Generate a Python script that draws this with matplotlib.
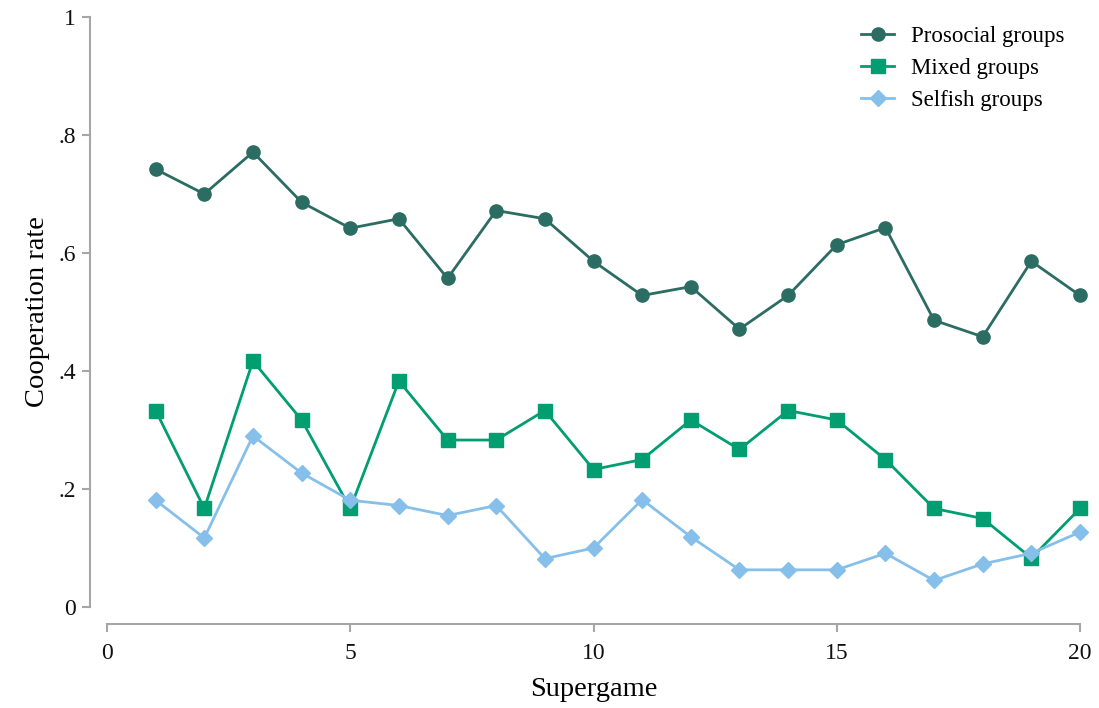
import matplotlib
matplotlib.use("Agg")
import matplotlib.pyplot as plt
from matplotlib.ticker import FixedLocator, FixedFormatter

supergame = list(range(1, 21))
prosocial = [0.742, 0.700, 0.771, 0.686, 0.642, 0.658, 0.557, 0.672, 0.658, 0.586,
             0.528, 0.543, 0.471, 0.528, 0.614, 0.643, 0.486, 0.458, 0.586, 0.528]
mixed = [0.333, 0.167, 0.417, 0.317, 0.167, 0.383, 0.283, 0.283, 0.333, 0.233,
         0.250, 0.317, 0.267, 0.333, 0.317, 0.250, 0.167, 0.150, 0.083, 0.167]
selfish = [0.181, 0.117, 0.290, 0.227, 0.181, 0.172, 0.155, 0.172, 0.082, 0.100,
           0.182, 0.119, 0.063, 0.063, 0.063, 0.091, 0.045, 0.073, 0.091, 0.127]

x_ticks = [0, 5, 10, 15, 20]
y_ticks = [0, 0.2, 0.4, 0.6, 0.8, 1.0]
y_tick_labels = ["0", ".2", ".4", ".6", ".8", "1"]

plt.rcParams["font.family"] = ["Liberation Serif", "DejaVu Serif"]

W, H = 1099, 708
fig = plt.figure(figsize=(W / 100, H / 100), dpi=100)
ax = fig.add_axes([107 / W, (H - 607) / H, (1080 - 107) / W, (607 - 17) / H])

axis_grey = "#a6a6a6"
ax.plot(supergame, prosocial, color="#2b6c63", lw=2, marker="o", ms=9.5,
        label="Prosocial groups", clip_on=False, zorder=3)
ax.plot(supergame, mixed, color="#009e70", lw=2, marker="s", ms=9.5,
        label="Mixed groups", clip_on=False, zorder=3)
ax.plot(supergame, selfish, color="#86c0ea", lw=2, marker="D", ms=8.5,
        label="Selfish groups", clip_on=False, zorder=3)

ax.set_xlim(0, 20)
ax.set_ylim(0, 1)
for side in ("top", "right"):
    ax.spines[side].set_visible(False)
# axes sit 17 px away from the plotting region
for side in ("left", "bottom"):
    ax.spines[side].set_position(("outward", 17 * 72 / 100))
    ax.spines[side].set_color(axis_grey)
    ax.spines[side].set_linewidth(1.5)

ax.xaxis.set_major_locator(FixedLocator(x_ticks))
ax.yaxis.set_major_locator(FixedLocator(y_ticks))
ax.yaxis.set_major_formatter(FixedFormatter(y_tick_labels))
ax.tick_params(axis="both", which="major", length=6, width=1.5, color=axis_grey,
               labelsize=17, labelcolor="#111111")
ax.tick_params(axis="x", pad=8)
ax.tick_params(axis="y", pad=4)

ax.set_xlabel("Supergame", fontsize=20.5, labelpad=9)
ax.set_ylabel("Cooperation rate", fontsize=20.5, labelpad=6)

leg = ax.legend(loc="upper right", bbox_to_anchor=(1074 / W, (H - 17) / H),
                bbox_transform=fig.transFigure, frameon=False, fontsize=16.5,
                handlelength=1.45, handletextpad=0.75, labelspacing=0.47,
                borderaxespad=0)

fig.savefig("out.png", dpi=100, facecolor="white")
